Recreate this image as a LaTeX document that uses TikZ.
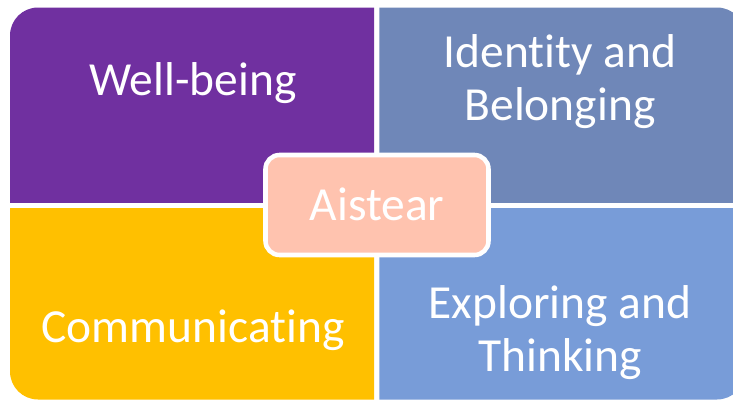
\documentclass[tikz,border=0pt]{standalone}
\usepackage{fontspec}
\setmainfont{Carlito}[Ligatures=NoCommon]
\definecolor{qpurple}{HTML}{7030A0}
\definecolor{qslate}{HTML}{6F87B8}
\definecolor{qblue}{HTML}{789CD8}
\definecolor{qyellow}{HTML}{FFC000}
\definecolor{qpeach}{HTML}{FFC3AF}
\tikzset{
  quadtext/.style={text=white, font=\fontsize{35.6}{39.75}\selectfont, align=center, anchor=base, inner sep=0pt},
  hubbox/.style={draw=white, line width=3.4pt, fill=qpeach, rounded corners=10.5pt,
     minimum width=167.25pt, minimum height=75pt, text=white,
     font=\fontsize{35.6}{39.75}\selectfont, text height=23.5pt, text depth=0pt, inner sep=0pt},
}
\begin{document}
\begin{tikzpicture}[x=0.75pt,y=-0.75pt]
\useasboundingbox (0,0) rectangle (733,400);
\fill[white] (0,0) rectangle (733,400);
\begin{scope}
  \clip (10,7.5) rectangle (374,202);
  \fill[qpurple, rounded corners=21pt] (10,7.5) rectangle (745,399.5);
\end{scope}
\begin{scope}
  \clip (379.3,7.5) rectangle (745,202);
  \fill[qslate, rounded corners=21pt] (10,7.5) rectangle (745,399.5);
\end{scope}
\begin{scope}
  \clip (10,208.3) rectangle (374,399.5);
  \fill[qyellow, rounded corners=21pt] (10,7.5) rectangle (745,399.5);
\end{scope}
\begin{scope}
  \clip (379.3,208.3) rectangle (745,399.5);
  \fill[qblue, rounded corners=21pt] (10,7.5) rectangle (745,399.5);
\end{scope}
\node[quadtext] (wb) at (193,95) {Well-being};
\node[quadtext] (id) at (560,120) {Identity and\\Belonging};
\node[quadtext] (co) at (193,342) {Communicating};
\node[quadtext] (ex) at (560,371) {Exploring and\\Thinking};
\node[hubbox] (ai) at (377,205) {Aistear};
\end{tikzpicture}
\end{document}
